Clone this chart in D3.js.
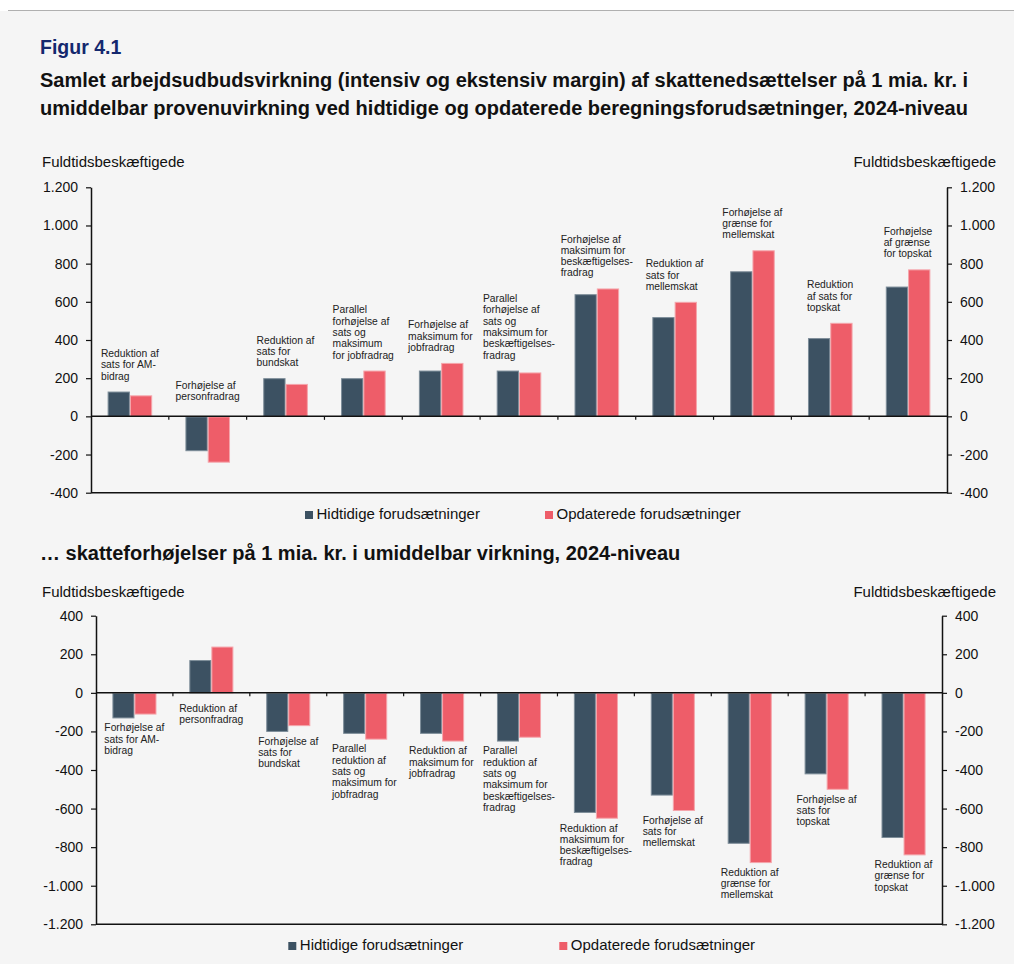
<!DOCTYPE html>
<html>
<head>
<meta charset="utf-8">
<script src="https://cdn.jsdelivr.net/npm/d3@7"></script>
<style>
  html, body { margin: 0; padding: 0; background: #ffffff; }
  svg { display: block; font-family: "Liberation Sans", Arial, sans-serif; }
</style>
</head>
<body>
<svg id="chart" width="1014" height="964"></svg>
<script>
// ---------------- DATA ----------------
const figureLabel = "Figur 4.1";
const titleLines = [
  "Samlet arbejdsudbudsvirkning (intensiv og ekstensiv margin) af skattenedsættelser på 1 mia. kr. i",
  "umiddelbar provenuvirkning ved hidtidige og opdaterede beregningsforudsætninger, 2024-niveau"
];
const subtitle = "… skatteforhøjelser på 1 mia. kr. i umiddelbar virkning, 2024-niveau";
const axisTitle = "Fuldtidsbeskæftigede";
const seriesNames = ["Hidtidige forudsætninger", "Opdaterede forudsætninger"];

const topCategories = [
  "Reduktion af|sats for AM-|bidrag",
  "Forhøjelse af|personfradrag",
  "Reduktion af|sats for|bundskat",
  "Parallel|forhøjelse af|sats og|maksimum|for jobfradrag",
  "Forhøjelse af|maksimum for|jobfradrag",
  "Parallel|forhøjelse af|sats og|maksimum for|beskæftigelses-|fradrag",
  "Forhøjelse af|maksimum for|beskæftigelses-|fradrag",
  "Reduktion af|sats for|mellemskat",
  "Forhøjelse af|grænse for|mellemskat",
  "Reduktion|af sats for|topskat",
  "Forhøjelse|af grænse|for topskat"
];
const topHidtidige  = [130, -180, 200, 200, 240, 240, 640, 520, 760, 410, 680];
const topOpdaterede = [110, -240, 170, 240, 280, 230, 670, 600, 870, 490, 770];
const topTicks = [1200, 1000, 800, 600, 400, 200, 0, -200, -400];

const bottomCategories = [
  "Forhøjelse af|sats for AM-|bidrag",
  "Reduktion af|personfradrag",
  "Forhøjelse af|sats for|bundskat",
  "Parallel|reduktion af|sats og|maksimum for|jobfradrag",
  "Reduktion af|maksimum for|jobfradrag",
  "Parallel|reduktion af|sats og|maksimum for|beskæftigelses-|fradrag",
  "Reduktion af|maksimum for|beskæftigelses-|fradrag",
  "Forhøjelse af|sats for|mellemskat",
  "Reduktion af|grænse for|mellemskat",
  "Forhøjelse af|sats for|topskat",
  "Reduktion af|grænse for|topskat"
];
const bottomHidtidige  = [-130, 170, -200, -210, -210, -250, -620, -530, -780, -420, -750];
const bottomOpdaterede = [-110, 240, -170, -240, -250, -230, -650, -610, -880, -500, -840];
const bottomTicks = [400, 200, 0, -200, -400, -600, -800, -1000, -1200];

// ---------------- STYLE ----------------
const colors = ["#3c5162", "#ee5d69"];
const strokes = ["#7d8d99", "#f5a5ab"];
const bg = "#f5f5f5";

const locale = d3.formatLocale({decimal: ",", thousands: ".", grouping: [3], currency: ["", " kr."], minus: "-"});
const fmt = locale.format(",d");

const svg = d3.select("#chart");
svg.append("rect").attr("x", 0).attr("y", 0).attr("width", 1014).attr("height", 964).attr("fill", "#ffffff");
svg.append("rect").attr("x", 0).attr("y", 11).attr("width", 1014).attr("height", 953).attr("fill", bg);
svg.append("line").attr("x1", 8).attr("x2", 1014).attr("y1", 10.5).attr("y2", 10.5)
  .attr("stroke", "#b0b0b0").attr("stroke-width", 1.2);

// Header
svg.append("text").attr("x", 40).attr("y", 54).text(figureLabel)
  .attr("font-size", 19.5).attr("font-weight", "bold").attr("fill", "#14286e");
titleLines.forEach((t, i) => {
  svg.append("text").attr("x", 40).attr("y", 87 + i * 28).text(t)
    .attr("font-size", 20).attr("font-weight", "bold").attr("fill", "#111");
});
svg.append("text").attr("x", 40).attr("y", 560).text(subtitle)
  .attr("font-size", 20).attr("font-weight", "bold").attr("fill", "#111");

function drawPanel(cfg) {
  const {categories, s1, s2, ticks, left, right, top, bottom, titleY, legendY} = cfg;
  const g = svg.append("g");
  const domain = d3.extent(ticks);
  const y = d3.scaleLinear().domain(domain).range([bottom, top]);
  const idx = d3.range(categories.length);
  const x = d3.scaleBand().domain(idx).range([left, right]).padding(0);
  const barW = x.bandwidth() * 0.2865;
  const xs = d3.scaleBand().domain([0, 1]).range([0, barW * 2]).padding(0);
  const off = (x.bandwidth() - barW * 2) / 2;

  // axis titles
  g.append("text").attr("x", 42).attr("y", titleY).text(axisTitle)
    .attr("font-size", 15).attr("fill", "#111");
  g.append("text").attr("x", 996).attr("y", titleY).attr("text-anchor", "end").text(axisTitle)
    .attr("font-size", 15).attr("fill", "#111");

  // bars
  const series = [s1, s2];
  series.forEach((vals, si) => {
    g.selectAll(null).data(vals).enter().append("rect")
      .attr("x", (d, i) => x(i) + off + xs(si) + 0.5)
      .attr("width", barW - 1)
      .attr("y", d => Math.min(y(d), y(0)) + 0.5)
      .attr("height", d => Math.max(0, Math.abs(y(d) - y(0)) - 0.5))
      .attr("fill", colors[si])
      .attr("stroke", strokes[si])
      .attr("stroke-width", 1);
  });

  // axes
  const yl = d3.axisLeft(y).tickValues(ticks).tickFormat(fmt).tickSize(5).tickSizeOuter(0).tickPadding(8);
  const yr = d3.axisRight(y).tickValues(ticks).tickFormat(fmt).tickSize(5).tickSizeOuter(0).tickPadding(8);
  const ga = g.append("g").attr("transform", `translate(${left},0)`).call(yl);
  const gb = g.append("g").attr("transform", `translate(${right},0)`).call(yr);
  [ga, gb].forEach(a => {
    a.select(".domain").attr("stroke", "#111").attr("stroke-width", 1.5);
    a.selectAll(".tick line").attr("stroke", "#111").attr("stroke-width", 1.2);
    a.selectAll(".tick text").attr("font-size", 14).attr("fill", "#111")
      .attr("font-family", "Liberation Sans, Arial, sans-serif");
  });
  // zero line and bottom line
  g.append("line").attr("x1", left).attr("x2", right).attr("y1", y(0)).attr("y2", y(0))
    .attr("stroke", "#111").attr("stroke-width", 1.5);
  g.append("line").attr("x1", left).attr("x2", right).attr("y1", y(domain[0])).attr("y2", y(domain[0]))
    .attr("stroke", "#111").attr("stroke-width", 1.5);
  // category ticks on zero line
  idx.slice(1).forEach(i => {
    g.append("line").attr("x1", x(i)).attr("x2", x(i)).attr("y1", y(0)).attr("y2", y(0) + 3.5)
      .attr("stroke", "#111").attr("stroke-width", 1.2);
  });

  // category labels
  const lh = 11.3;
  categories.forEach((c, i) => {
    const lines = c.split("|");
    const mx = Math.max(0, s1[i], s2[i]);
    const mn = Math.min(0, s1[i], s2[i]);
    const pos = (s1[i] + s2[i]) >= 0;
    const t = g.append("text").attr("font-size", 10.3).attr("fill", "#222");
    let y0;
    if (pos && cfg.labelsAbove) {
      y0 = y(mx) - 12 - (lines.length - 1) * lh;
    } else if (!pos && cfg.labelsAbove) {
      y0 = y(0) - 16 - (lines.length - 1) * lh;
    } else if (!pos) {
      y0 = y(mn) + 13.3;
    } else {
      y0 = y(0) + 19;
    }
    lines.forEach((ln, k) => {
      t.append("tspan").attr("x", 0).attr("y", y0 + k * lh).text(ln);
    });
    const w = t.node().getBBox().width;
    const cx = x(i) + x.bandwidth() / 2;
    t.attr("transform", `translate(${cx - w / 2},0)`);
  });

  // legend
  const lg = g.append("g");
  cfg.legendX.forEach((lx, si) => {
    lg.append("rect").attr("x", lx).attr("y", legendY - 7.5).attr("width", 8).attr("height", 8)
      .attr("fill", colors[si]);
    lg.append("text").attr("x", lx + 11.5).attr("y", legendY).text(seriesNames[si])
      .attr("font-size", 15).attr("fill", "#111");
  });
}

drawPanel({
  categories: topCategories, s1: topHidtidige, s2: topOpdaterede, ticks: topTicks,
  left: 91, right: 947, top: 187.3, bottom: 492.7, titleY: 166.5,
  legendY: 518.5, legendX: [305, 545], labelsAbove: true
});
drawPanel({
  categories: bottomCategories, s1: bottomHidtidige, s2: bottomOpdaterede, ticks: bottomTicks,
  left: 96, right: 942, top: 615.7, bottom: 924.3, titleY: 596.5,
  legendY: 949.5, legendX: [288.3, 559.3], labelsAbove: false
});
</script>
</body>
</html>
